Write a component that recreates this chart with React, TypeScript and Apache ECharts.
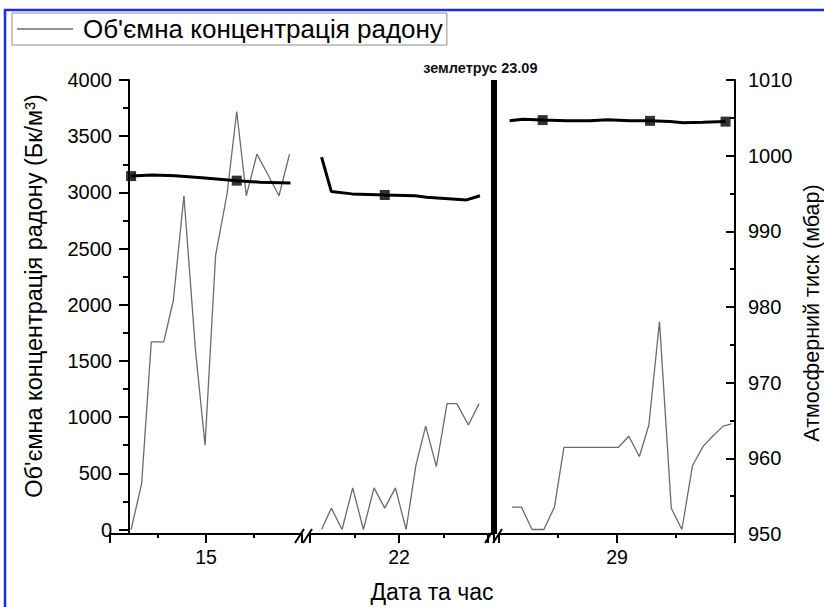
import React, { useEffect, useRef } from "react";
import * as echarts from "echarts";

const FONT = '"Liberation Sans", Arial, Helvetica, sans-serif';

// ---- texts ----
const radonName = "Об'ємна концентрація радону";
const pressureName = "Атмосферний тиск";
const yLeftName = "Об'ємна концентрація радону (Бк/м³)";
const yRightName = "Атмосферний тиск (мбар)";
const xName = "Дата та час";
const quakeLabel = "землетрус 23.09";

// ---- x axis: day of month, one range per broken-axis panel ----
const panelMin = [14, 21, 28];
const panelMax = [16, 23.06, 30];
const xTickLabels = [15, 22, 29];
const quakeDay = 23.06;

// ---- y axes ----
const radonRange = [-40, 4000];
const pressureRange = [950, 1010];
const pressureStep = 10;

// ---- radon volume concentration (Bq/m3) ----
const radonDays1 = [14.22, 14.33, 14.43, 14.56, 14.66, 14.77, 14.89, 14.99, 15.1, 15.22, 15.32, 15.42, 15.53, 15.65, 15.76, 15.87];
const radon1 = [0, 410, 1670, 1670, 2040, 2970, 1600, 750, 2440, 2990, 3720, 2970, 3340, 3150, 2970, 3340];

const radonDays2 = [21.13, 21.24, 21.36, 21.48, 21.6, 21.72, 21.84, 21.96, 22.08, 22.19, 22.3, 22.42, 22.54, 22.65, 22.78, 22.9];
const radon2 = [0, 190, 0, 370, 0, 370, 190, 370, 0, 570, 920, 560, 1120, 1120, 930, 1120];

const radonDays3 = [28.11, 28.19, 28.28, 28.38, 28.47, 28.55, 28.64, 28.74, 28.83, 28.92, 29.01, 29.1, 29.19, 29.27, 29.36, 29.46, 29.55, 29.64, 29.73, 29.81, 29.9, 29.97];
const radon3 = [200, 200, 0, 0, 200, 730, 730, 730, 730, 730, 730, 830, 650, 930, 1850, 190, 0, 570, 740, 830, 920, 940];

// ---- atmospheric pressure (mbar) ----
const pressureDays1 = [14.22, 14.44, 14.68, 14.99, 15.32, 15.56, 15.88];
const pressure1 = [997.3, 997.45, 997.35, 997.05, 996.7, 996.5, 996.4];
const markerIdx1 = [0, 4];

const pressureDays2 = [21.13, 21.24, 21.47, 21.84, 22.18, 22.31, 22.76, 22.91];
const pressure2 = [999.8, 995.25, 994.95, 994.8, 994.7, 994.5, 994.15, 994.7];
const markerIdx2 = [3];

const pressureDays3 = [28.09, 28.2, 28.37, 28.58, 28.77, 28.92, 29.11, 29.28, 29.45, 29.56, 29.73, 29.92];
const pressure3 = [1004.6, 1004.8, 1004.7, 1004.6, 1004.6, 1004.75, 1004.6, 1004.6, 1004.5, 1004.35, 1004.4, 1004.5];
const markerIdx3 = [2, 7, 11];

const pairs = (d: number[], v: number[]) => d.map((x, i) => [x, v[i]]);
const pick = (d: number[], v: number[], idx: number[]) => idx.map((i) => [d[i], v[i]]);

export default function App() {
  const ref = useRef<HTMLDivElement>(null);

  useEffect(() => {
    if (!ref.current) return;
    const chart = echarts.init(ref.current, undefined, { renderer: "svg" });

    const gridLeft = [110, 310, 499];
    const gridWidth = [192, 183.3, 236];
    const grid = [0, 1, 2].map((i) => ({
      left: gridLeft[i],
      top: 80,
      width: gridWidth[i],
      height: 454,
      containLabel: false,
      outerBoundsMode: "none",
    }));

    const black = "#000";
    const radonColor = "#6b6b6b";
    const xAxis = [0, 1, 2].map((i) => ({
      type: "value",
      gridIndex: i,
      min: panelMin[i],
      max: panelMax[i],
      interval: 1,
      axisLine: { show: true, onZero: false, lineStyle: { color: black, width: 2 } },
      axisTick: { show: true, inside: false, length: 9, lineStyle: { color: black, width: 2 } },
      minorTick: { show: true, splitNumber: 2, length: 4, lineStyle: { color: black, width: 2 } },
      splitLine: { show: false },
      minorSplitLine: { show: false },
      axisLabel: {
        show: true,
        margin: 13,
        fontSize: 19.5,
        color: black,
        fontFamily: FONT,
        formatter: (v: number) => (xTickLabels.includes(Math.round(v * 100) / 100) ? String(v) : ""),
      },
    }));

    const hiddenY = (g: number, r: number[]) => ({
      type: "value",
      gridIndex: g,
      min: r[0],
      max: r[1],
      show: false,
      splitLine: { show: false },
      axisLine: { onZero: false },
    });

    const yAxis = [
      {
        type: "value",
        gridIndex: 0,
        position: "left",
        offset: -19,
        min: radonRange[0],
        max: radonRange[1],
        splitNumber: 8,
        axisLine: { show: true, onZero: false, lineStyle: { color: black, width: 2 } },
        axisTick: { show: true, inside: false, length: 10, lineStyle: { color: black, width: 2 } },
        minorTick: { show: true, splitNumber: 2, length: 6, lineStyle: { color: black, width: 2 } },
        splitLine: { show: false },
        minorSplitLine: { show: false },
        axisLabel: {
          margin: 17,
          fontSize: 20,
          color: black,
          fontFamily: FONT,
          showMinLabel: false,
          formatter: (v: number) => (v < 0 ? "" : String(v)),
        },
        name: yLeftName,
        nameLocation: "middle",
        nameRotate: 90,
        nameGap: 83,
        nameMoveOverlap: false,
        nameTextStyle: { fontSize: 23.5, color: black, fontFamily: FONT, padding: [0, 0, 0, 22] },
      },
      hiddenY(0, pressureRange),
      hiddenY(1, radonRange),
      hiddenY(1, pressureRange),
      hiddenY(2, radonRange),
      {
        type: "value",
        gridIndex: 2,
        position: "right",
        min: pressureRange[0],
        max: pressureRange[1],
        interval: pressureStep,
        axisLine: { show: true, onZero: false, lineStyle: { color: black, width: 2 } },
        axisTick: { show: true, inside: true, length: 9, lineStyle: { color: black, width: 2 } },
        minorTick: { show: true, splitNumber: 2, length: 5, lineStyle: { color: black, width: 2 } },
        splitLine: { show: false },
        minorSplitLine: { show: false },
        axisLabel: {
          margin: 13,
          fontSize: 20,
          color: black,
          fontFamily: FONT,
          formatter: (v: number) => String(v),
        },
        name: yRightName,
        nameLocation: "middle",
        nameRotate: 90,
        nameGap: 66,
        nameMoveOverlap: false,
        nameTextStyle: { fontSize: 21.5, color: black, fontFamily: FONT, padding: [0, 12, 0, 0] },
      },
    ];

    const radonStyle = {
      type: "line",
      name: radonName,
      symbol: "none",
      lineStyle: { color: radonColor, width: 1.3 },
      itemStyle: { color: radonColor },
      z: 2,
    };
    const presStyle = {
      type: "line",
      name: pressureName,
      symbol: "none",
      lineStyle: { color: black, width: 3 },
      itemStyle: { color: black },
      z: 3,
    };
    const markStyle = {
      type: "scatter",
      name: pressureName,
      symbol: "rect",
      symbolSize: 10,
      itemStyle: { color: black },
      z: 4,
    };

    const series: any[] = [
      { ...radonStyle, xAxisIndex: 0, yAxisIndex: 0, data: pairs(radonDays1, radon1) },
      {
        ...radonStyle,
        xAxisIndex: 1,
        yAxisIndex: 2,
        data: pairs(radonDays2, radon2),
        markLine: {
          silent: true,
          symbol: ["none", "none"],
          lineStyle: { color: black, width: 6, type: "solid" },
          label: {
            show: true,
            position: "end",
            formatter: quakeLabel,
            fontSize: 14.5,
            fontWeight: "bold",
            color: "#111",
            fontFamily: FONT,
            distance: 5,
            padding: [0, 26, 0, 0],
          },
          data: [{ xAxis: quakeDay }],
        },
      },
      { ...radonStyle, xAxisIndex: 2, yAxisIndex: 4, data: pairs(radonDays3, radon3) },
      { ...presStyle, xAxisIndex: 0, yAxisIndex: 1, data: pairs(pressureDays1, pressure1) },
      { ...presStyle, xAxisIndex: 1, yAxisIndex: 3, data: pairs(pressureDays2, pressure2) },
      { ...presStyle, xAxisIndex: 2, yAxisIndex: 5, data: pairs(pressureDays3, pressure3) },
      { ...markStyle, xAxisIndex: 0, yAxisIndex: 1, data: pick(pressureDays1, pressure1, markerIdx1) },
      { ...markStyle, xAxisIndex: 1, yAxisIndex: 3, data: pick(pressureDays2, pressure2, markerIdx2) },
      { ...markStyle, xAxisIndex: 2, yAxisIndex: 5, data: pick(pressureDays3, pressure3, markerIdx3) },
    ];

    const breakMarks: any[] = [];
    [295, 485].forEach((bx) => {
      [0, 8].forEach((dx) => {
        breakMarks.push({
          type: "line",
          silent: true,
          shape: { x1: bx + dx, y1: 543, x2: bx + dx + 9, y2: 529 },
          style: { stroke: black, lineWidth: 2 },
          z: 10,
        });
      });
    });

    chart.setOption({
      animation: false,
      backgroundColor: "#fff",
      textStyle: { fontFamily: FONT },
      grid,
      xAxis,
      yAxis,
      legend: {
        show: true,
        data: [radonName],
        left: 12,
        top: 13,
        orient: "horizontal",
        icon: "rect",
        itemWidth: 56,
        itemHeight: 1.5,
        itemStyle: { color: radonColor, borderWidth: 0 },
        borderColor: "#8c8c8c",
        borderWidth: 1,
        padding: [3, 4, 3, 5],
        selectedMode: false,
        textStyle: { fontSize: 26, color: black, fontFamily: FONT, padding: [0, 0, 0, 5] },
      },
      series,
      graphic: [
        {
          type: "rect",
          silent: true,
          shape: { x: 5, y: 10, width: 830, height: 620 },
          style: { fill: "none", stroke: "#1b2af0", lineWidth: 2.5 },
          z: 20,
        },
        ...breakMarks,
        {
          type: "text",
          silent: true,
          x: 432,
          y: 580,
          style: {
            text: xName,
            fontSize: 23,
            fontFamily: FONT,
            fill: black,
            textAlign: "center",
            textVerticalAlign: "top",
          },
        },
      ],
    });

    return () => chart.dispose();
  }, []);

  return (
    <div
      ref={ref}
      style={{ position: "absolute", left: 0, top: 0, width: 824, height: 607, background: "#fff" }}
    />
  );
}
